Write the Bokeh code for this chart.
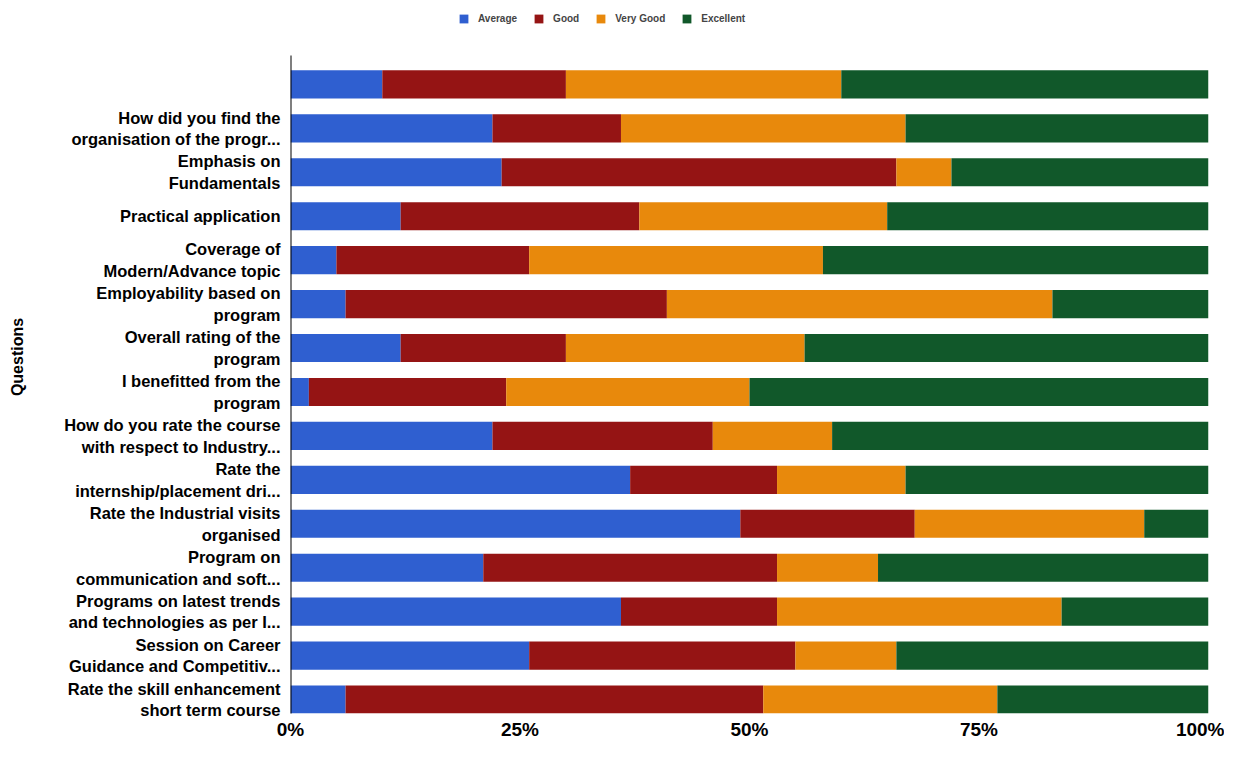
import numpy as np
from bokeh.plotting import figure
from bokeh.models import ColumnDataSource, Range1d, FixedTicker, Legend
from bokeh.embed import file_html
from bokeh.resources import INLINE

questions = [
    "",
    "How did you find the\norganisation of the progr...",
    "Emphasis on\nFundamentals",
    "Practical application",
    "Coverage of\nModern/Advance topic",
    "Employability based on\nprogram",
    "Overall rating of the\nprogram",
    "I benefitted from the\nprogram",
    "How do you rate the course\nwith respect to Industry...",
    "Rate the\ninternship/placement dri...",
    "Rate the Industrial visits\norganised",
    "Program on\ncommunication and soft...",
    "Programs on latest trends\nand technologies as per I...",
    "Session on Career\nGuidance and Competitiv...",
    "Rate the skill enhancement\nshort term course",
]
average = [10, 22, 23, 12, 5, 6, 12, 2, 22, 37, 49, 21, 36, 26, 6]
good = [20, 14, 43, 26, 21, 35, 18, 21.5, 24, 16, 19, 32, 17, 29, 45.5]
very_good = [30, 31, 6, 27, 32, 42, 26, 26.5, 13, 14, 25, 11, 31, 11, 25.5]
excellent = [40, 33, 28, 35, 42, 17, 44, 50, 41, 33, 7, 36, 16, 34, 23]

series = ["Average", "Good", "Very Good", "Excellent"]
colors = ["#2f5fd0", "#951414", "#e8890c", "#11582a"]
x_ticks = [0, 25, 50, 75, 100]
x_tick_labels = ["0%", "25%", "50%", "75%", "100%"]

n = len(questions)
ypos = (n - 1 - np.arange(n)).tolist()   # first question at the top

source = ColumnDataSource(dict(y=ypos, Average=average, Good=good,
                               **{"Very Good": very_good}, Excellent=excellent))

W, H = 1224, 742
BL, BR, BT, BB = 290, 16, 0, 28
frame_h = H - BT - BB
pitch = 44.0
y_start = -14.0 / pitch
y_end = y_start + frame_h / pitch

p = figure(width=W, height=H, output_backend="svg", toolbar_location=None,
           y_range=Range1d(y_start, y_end), x_range=Range1d(0, 100),
           min_border_left=BL, min_border_right=BR, min_border_top=BT,
           min_border_bottom=BB)

renderers = p.hbar_stack(series, y="y", height=0.64, color=colors, line_color=None,
                         source=source)

# axis line (only along the rows, like the reference)
p.segment(x0=[0], y0=[y_start - 0.5], x1=[0], y1=[n - 0.5 + 0.16],
          line_color="#000000", line_width=2)

legend = Legend(items=[(s, [r]) for s, r in zip(series, renderers)],
                orientation="horizontal", location=(168, frame_h - 25),
                label_text_font="Liberation Sans", label_text_font_style="bold",
                label_text_font_size="10px", glyph_width=11, glyph_height=11,
                label_standoff=9, spacing=16, border_line_color=None,
                background_fill_alpha=0, padding=0, margin=0, label_height=11)
p.add_layout(legend, "center")

p.outline_line_color = None
p.xgrid.grid_line_color = None
p.ygrid.grid_line_color = None

p.xaxis.ticker = FixedTicker(ticks=x_ticks)
p.xaxis.major_label_overrides = {t: l for t, l in zip(x_ticks, x_tick_labels)}
p.xaxis.axis_line_color = None
p.xaxis.major_tick_line_color = None
p.xaxis.minor_tick_line_color = None
p.xaxis.major_tick_out = 0
p.xaxis.major_tick_in = 0
p.xaxis.major_label_text_font = "Liberation Sans"
p.xaxis.major_label_text_font_style = "bold"
p.xaxis.major_label_text_font_size = "19px"
p.xaxis.major_label_text_color = "#000000"
p.xaxis.major_label_standoff = 5

p.yaxis.ticker = FixedTicker(ticks=ypos)
p.yaxis.major_label_overrides = {y: q for y, q in zip(ypos, questions)}
p.yaxis.axis_line_color = None
p.yaxis.major_tick_line_color = None
p.yaxis.minor_tick_line_color = None
p.yaxis.major_tick_out = 0
p.yaxis.major_tick_in = 0
p.yaxis.major_label_text_font = "Liberation Sans"
p.yaxis.major_label_text_font_style = "bold"
p.yaxis.major_label_text_font_size = "16.5px"
p.yaxis.major_label_text_color = "#000000"
p.yaxis.major_label_standoff = 10
p.yaxis.axis_label = "Questions"
p.yaxis.axis_label_text_font = "Liberation Sans"
p.yaxis.axis_label_text_font_style = "bold"
p.yaxis.axis_label_text_font_size = "16px"
p.yaxis.axis_label_text_color = "#000000"
p.yaxis.axis_label_standoff = 35

open("out.html", "w").write(file_html(p, INLINE))
